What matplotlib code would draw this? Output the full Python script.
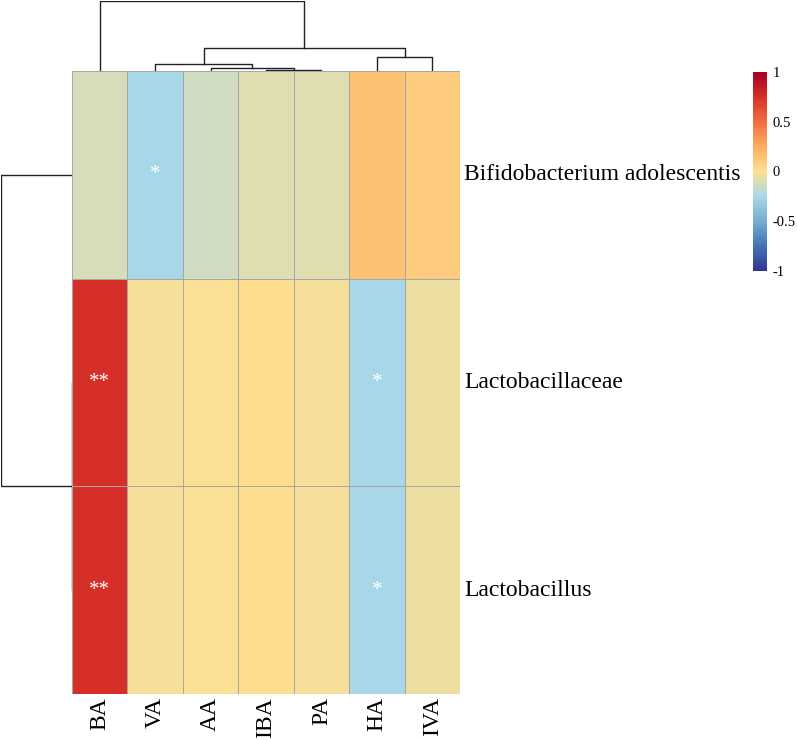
import numpy as np
import matplotlib
matplotlib.use("Agg")
import matplotlib.pyplot as plt
from matplotlib.colors import LinearSegmentedColormap

plt.rcParams['font.family'] = ['Liberation Serif', 'DejaVu Serif']

# data (already in clustered order)
cols = ["BA", "VA", "AA", "IBA", "PA", "HA", "IVA"]
rows = ["Bifidobacterium adolescentis", "Lactobacillaceae", "Lactobacillus"]
bifido = [-0.12, -0.26, -0.14, -0.09, -0.09, 0.15, 0.10]
lactobacillaceae = [0.75, -0.03, -0.01, 0.01, -0.03, -0.26, -0.05]
lactobacillus = [0.75, -0.03, -0.01, 0.01, -0.03, -0.26, -0.05]
stars = [["", "*", "", "", "", "", ""],
         ["**", "", "", "", "", "*", ""],
         ["**", "", "", "", "", "*", ""]]

# merges: (left leaf indices, right leaf indices, height)
col_merges = [([3], [4], 1.5),
              ([2], [3, 4], 2.7),
              ([1], [2, 3, 4], 7.0),
              ([5], [6], 13.7),
              ([1, 2, 3, 4], [5, 6], 23.0),
              ([0], [1, 2, 3, 4, 5, 6], 70.0)]
row_merges = [([1], [2], 0.0),
              ([0], [1, 2], 71.0)]

vals = np.array([bifido, lactobacillaceae, lactobacillus])

cmap = LinearSegmentedColormap.from_list(
    "rdylbu", ["#313695", "#4575B4", "#74ADD1", "#ABD9E9", "#FEE090",
               "#FDAE61", "#F46D43", "#D73027", "#A50026"])

W, H = 797, 740
fig = plt.figure(figsize=(W / 100, H / 100), dpi=100)


def fax(x0, y0, x1, y1):
    return fig.add_axes([x0 / W, 1 - y1 / H, (x1 - x0) / W, (y1 - y0) / H])


# heatmap
ax = fax(72, 71, 460, 694)
ax.pcolormesh(vals, cmap=cmap, vmin=-1, vmax=1, edgecolors="#A6A6A6",
              linewidth=0.7, antialiased=True)
ax.set_xlim(0, len(cols))
ax.set_ylim(len(rows), 0)
ax.set_xticks([])
ax.set_yticks([])
for s in ax.spines.values():
    s.set_visible(False)
for i in range(len(rows)):
    for j in range(len(cols)):
        if stars[i][j]:
            ax.text(j + 0.5, i + 0.5, stars[i][j], color="white", fontsize=15,
                    ha="center", va="center")
    ax.text(len(cols) + 0.08, i + 0.5, rows[i], fontsize=17, ha="left", va="center")
for j, c in enumerate(cols):
    ax.text(j + 0.5, len(rows) + 0.015, c, fontsize=17, rotation=90,
            ha="center", va="top")


def dendro(a, merges, vertical):
    centers = {}
    for left, right, h in merges:
        pts = []
        for grp in (left, right):
            key = tuple(grp)
            if key in centers:
                pts.append(centers[key])
            else:
                pts.append((grp[0] + 0.5, 0.0))
        (x1, h1), (x2, h2) = pts
        xs, ys = [x1, x1, x2, x2], [h1, h, h, h2]
        if vertical:
            a.plot(xs, ys, color="#222222", lw=1)
        else:
            a.plot(ys, xs, color="#222222", lw=1)
        centers[tuple(left + right)] = ((x1 + x2) / 2, h)


# column dendrogram
cax = fax(72, 1, 460, 71)
dendro(cax, col_merges, True)
cax.set_xlim(0, len(cols))
cax.set_ylim(0, 70.0)
cax.axis("off")

# row dendrogram
rax = fax(1, 71, 72, 694)
dendro(rax, row_merges, False)
rax.set_ylim(len(rows), 0)
rax.set_xlim(71.0, 0)
rax.axis("off")

# colorbar
bax = fax(753, 72, 767, 271)
grad = np.linspace(-1, 1, 256).reshape(-1, 1)
bax.imshow(grad, cmap=cmap, aspect="auto", origin="lower", extent=[0, 1, -1, 1])
bax.set_xticks([])
bax.yaxis.tick_right()
bax.set_yticks([-1, -0.5, 0, 0.5, 1])
bax.set_yticklabels(["-1", "-0.5", "0", "0.5", "1"], fontsize=10.5)
bax.tick_params(axis="y", length=0, pad=4)
for s in bax.spines.values():
    s.set_visible(False)

fig.savefig("out.png", dpi=100)
